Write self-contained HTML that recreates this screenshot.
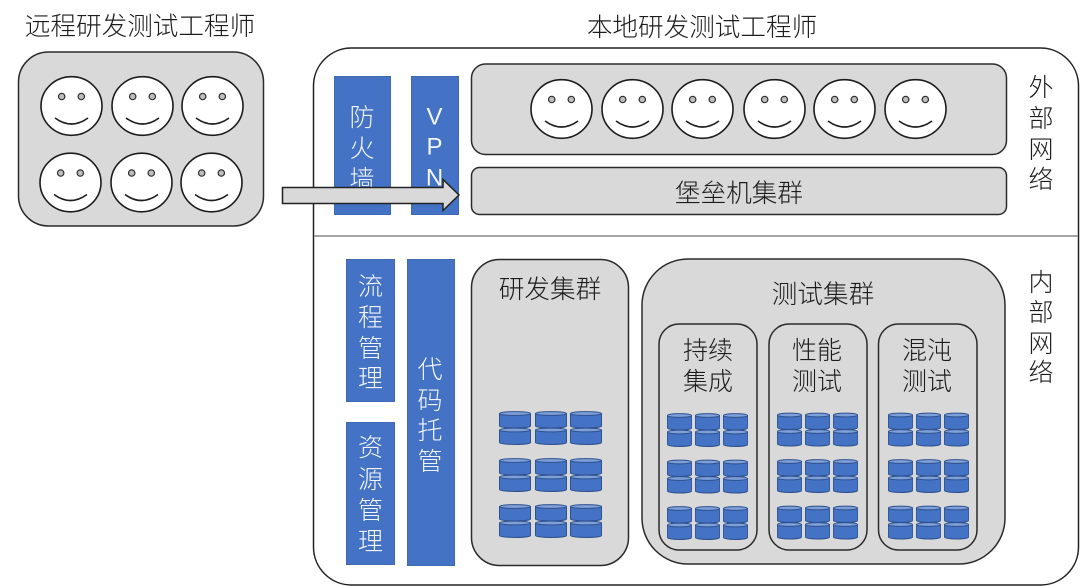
<!DOCTYPE html>
<html>
<head>
<meta charset="utf-8">
<style>
html,body{margin:0;padding:0;background:#fff;width:1080px;height:586px;overflow:hidden}
svg{display:block}
text{font-family:"Liberation Sans","Noto Sans CJK SC",sans-serif;font-weight:300;text-anchor:middle;dominant-baseline:central;transform:translateY(1px)}
.d{fill:#1c1c1c;font-size:25px}
.w{fill:#f2f5fb;font-size:25px}
.box{fill:#d9d9d9;stroke:#2a2a2a;stroke-width:1.5}
.blue{fill:#4472c4;stroke:#3f69b5;stroke-width:1}
</style>
</head>
<body>
<svg width="1080" height="586" viewBox="0 0 1080 586" xmlns="http://www.w3.org/2000/svg">
<defs>
  <g id="face">
    <ellipse cx="0" cy="0" rx="30.500" ry="29.300" fill="#fff" stroke="#1c1c1c" stroke-width="1.600"/>
    <circle cx="-9.800" cy="-9.500" r="3.200" fill="#bdbdbd" stroke="#2c2c2c" stroke-width="1.200"/>
    <circle cx="9.800" cy="-9.500" r="3.200" fill="#bdbdbd" stroke="#2c2c2c" stroke-width="1.200"/>
    <path d="M-16.500 12 Q0 24 16.500 12" fill="none" stroke="#1c1c1c" stroke-width="1.600"/>
  </g>
  <g id="cyl">
    <path d="M0.500 2.500 V15 A15.500 2 0 0 0 31.500 15 V2.500 Z" fill="#4472c4" stroke="#2f528f" stroke-width="1"/>
    <ellipse cx="16" cy="2.500" rx="15.500" ry="1.900" fill="#7f9fd8" stroke="#2f528f" stroke-width="1"/>
  </g>
  <g id="stack">
    <use href="#cyl"/>
    <use href="#cyl" y="16.500"/>
  </g>
  <g id="stk">
    <use href="#stack" transform="scale(.78,1)"/>
  </g>
  <g id="grid">
    <use href="#stk" x="0" y="0"/><use href="#stk" x="28" y="0"/><use href="#stk" x="56" y="0"/>
    <use href="#stk" x="0" y="46.500"/><use href="#stk" x="28" y="46.500"/><use href="#stk" x="56" y="46.500"/>
    <use href="#stk" x="0" y="93"/><use href="#stk" x="28" y="93"/><use href="#stk" x="56" y="93"/>
  </g>
</defs>

<text class="d" x="140" y="26" style="font-size:25.600px">远程研发测试工程师</text>
<text class="d" x="702" y="27" style="font-size:25.600px">本地研发测试工程师</text>

<rect class="box" x="18.500" y="52" width="245" height="174" rx="30"/>
<use href="#face" x="71.500" y="106"/>
<use href="#face" x="142.500" y="106"/>
<use href="#face" x="212.500" y="106"/>
<use href="#face" x="70.500" y="182.500"/>
<use href="#face" x="141.500" y="182.500"/>
<use href="#face" x="211.500" y="182.500"/>

<rect x="313.500" y="48" width="765" height="537" rx="38" fill="#fff" stroke="#222" stroke-width="1.500"/>
<line x1="314" y1="236" x2="1078" y2="236" stroke="#888" stroke-width="1.500"/>

<rect class="blue" x="334.500" y="76.500" width="56" height="138"/>
<rect class="blue" x="411.500" y="76.500" width="47" height="138"/>
<text class="w" x="362" y="117">防</text>
<text class="w" x="362" y="148">火</text>
<text class="w" x="362" y="179">墙</text>
<text class="w" x="434.500" y="116" style="font-size:24px">V</text>
<text class="w" x="434.500" y="146" style="font-size:24px">P</text>
<text class="w" x="434.500" y="177" style="font-size:24px">N</text>

<rect class="box" x="471.500" y="64" width="535" height="90.500" rx="14"/>
<use href="#face" x="561.500" y="109"/>
<use href="#face" x="632.500" y="109"/>
<use href="#face" x="702.500" y="109"/>
<use href="#face" x="774.500" y="109"/>
<use href="#face" x="844.500" y="109"/>
<use href="#face" x="915.500" y="109"/>

<rect class="box" x="471.500" y="167.500" width="535" height="47" rx="8"/>
<text class="d" x="739" y="193" style="font-size:25.600px">堡垒机集群</text>

<path d="M282.500 187.500 H443 V179.500 L459 195 L443 210.500 V203.500 H282.500 Z" fill="#d9d9d9" stroke="#222" stroke-width="1.500"/>

<text class="d" x="1041" y="87">外</text>
<text class="d" x="1041" y="118">部</text>
<text class="d" x="1041" y="149">网</text>
<text class="d" x="1041" y="179">络</text>

<rect class="blue" x="346.500" y="259.500" width="48" height="142"/>
<text class="w" x="370.500" y="286">流</text>
<text class="w" x="370.500" y="317">程</text>
<text class="w" x="370.500" y="348">管</text>
<text class="w" x="370.500" y="378">理</text>

<rect class="blue" x="346.500" y="422.500" width="48" height="142"/>
<text class="w" x="370.500" y="447">资</text>
<text class="w" x="370.500" y="479">源</text>
<text class="w" x="370.500" y="510">管</text>
<text class="w" x="370.500" y="541">理</text>

<rect class="blue" x="407.500" y="259.500" width="47" height="306"/>
<text class="w" x="430" y="369">代</text>
<text class="w" x="430" y="400">码</text>
<text class="w" x="430" y="430">托</text>
<text class="w" x="430" y="461">管</text>

<rect class="box" x="471.500" y="259.500" width="157" height="306" rx="28"/>
<text class="d" x="550" y="289" style="font-size:25.600px">研发集群</text>
<use href="#stack" x="499" y="411"/><use href="#stack" x="535" y="411"/><use href="#stack" x="570" y="411"/>
<use href="#stack" x="499" y="458"/><use href="#stack" x="535" y="458"/><use href="#stack" x="570" y="458"/>
<use href="#stack" x="499" y="504"/><use href="#stack" x="535" y="504"/><use href="#stack" x="570" y="504"/>

<rect class="box" x="642" y="259" width="363" height="305" rx="46"/>
<text class="d" x="823" y="294" style="font-size:25.600px">测试集群</text>

<rect class="box" x="659" y="324" width="98" height="226" rx="20"/>
<rect class="box" x="769" y="324" width="98" height="226" rx="20"/>
<rect class="box" x="878.500" y="324" width="98.500" height="226" rx="20"/>

<text class="d" x="708" y="350">持续</text>
<text class="d" x="708" y="381">集成</text>
<text class="d" x="817" y="350">性能</text>
<text class="d" x="817" y="381">测试</text>
<text class="d" x="927" y="350">混沌</text>
<text class="d" x="927" y="381">测试</text>

<use href="#grid" x="667" y="413"/>
<use href="#grid" x="777" y="412.500"/>
<use href="#grid" x="888" y="412.500"/>

<text class="d" x="1041" y="282">内</text>
<text class="d" x="1041" y="312">部</text>
<text class="d" x="1041" y="343">网</text>
<text class="d" x="1041" y="372">络</text>
</svg>
</body>
</html>
